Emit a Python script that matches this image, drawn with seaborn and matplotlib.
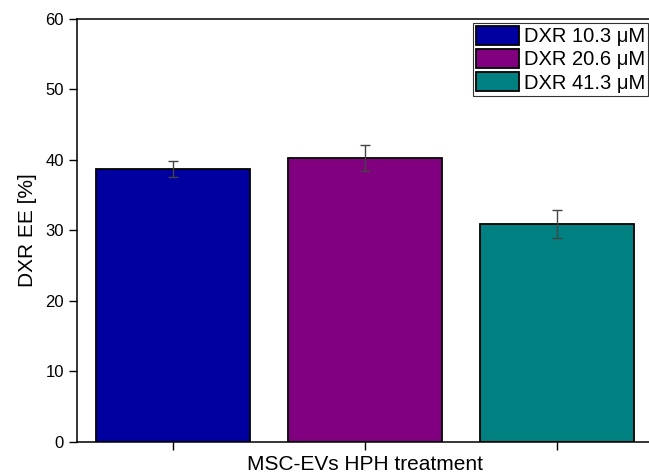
import matplotlib
matplotlib.use("Agg")
import matplotlib.pyplot as plt
import seaborn as sns
import pandas as pd

categories = ["DXR 10.3 μM", "DXR 20.6 μM", "DXR 41.3 μM"]
values = [38.7, 40.2, 30.9]
errors = [1.2, 1.85, 1.95]
colors = ["#0000A0", "#800080", "#008080"]
yticks = [0, 10, 20, 30, 40, 50, 60]

sns.set_style("ticks")
plt.rcParams["font.family"] = ["Liberation Sans", "DejaVu Sans"]
plt.rcParams["text.color"] = "black"
plt.rcParams["axes.labelcolor"] = "black"
plt.rcParams["xtick.color"] = "black"
plt.rcParams["ytick.color"] = "black"

df = pd.DataFrame({"cond": categories, "ee": values})

fig = plt.figure(figsize=(6.49, 4.74), dpi=100)
ax = fig.add_axes([77 / 649, 32.5 / 474, 576 / 649, 422.5 / 474])

sns.barplot(data=df, x="cond", y="ee", hue="cond", palette=colors,
            dodge=False, width=0.8, edgecolor="black", linewidth=1.3,
            errorbar=None, legend=True, ax=ax, saturation=1)

xs = ax.get_xticks()
ax.errorbar(xs, values, yerr=errors, fmt="none", ecolor="#444444",
            elinewidth=1.0, capsize=3.3, capthick=1.0, zorder=5)

ax.set_ylim(0, 60)
ax.set_xlim(-0.5, 2.5)
ax.set_yticks(yticks)
ax.set_xticklabels([])
ax.tick_params(axis="both", direction="out", length=6, width=1.0,
               labelsize=12, color="black", labelcolor="black", pad=3.5)
for s in ax.spines.values():
    s.set_linewidth(1.1)
    s.set_color("black")
ax.spines["right"].set_visible(True)
ax.spines["top"].set_visible(True)

ax.set_ylabel("DXR EE [%]", fontsize=15, labelpad=6, color="black")
ax.set_xlabel("MSC-EVs HPH treatment", fontsize=15, labelpad=0, color="black")

leg = ax.legend(loc="upper right", bbox_to_anchor=(648 / 649, 1 - 23 / 474),
                bbox_transform=fig.transFigure, borderaxespad=0,
                fontsize=14.5, frameon=True, fancybox=False,
                handlelength=2.1, handleheight=1.05, handletextpad=0.25,
                labelspacing=0.15, borderpad=0.15, edgecolor="black")
leg.get_frame().set_linewidth(0.8)
for t in leg.get_texts():
    t.set_color("black")
for h in leg.legend_handles:
    h.set_edgecolor("black")
    h.set_linewidth(1.3)

fig.savefig("out.png", dpi=100)
